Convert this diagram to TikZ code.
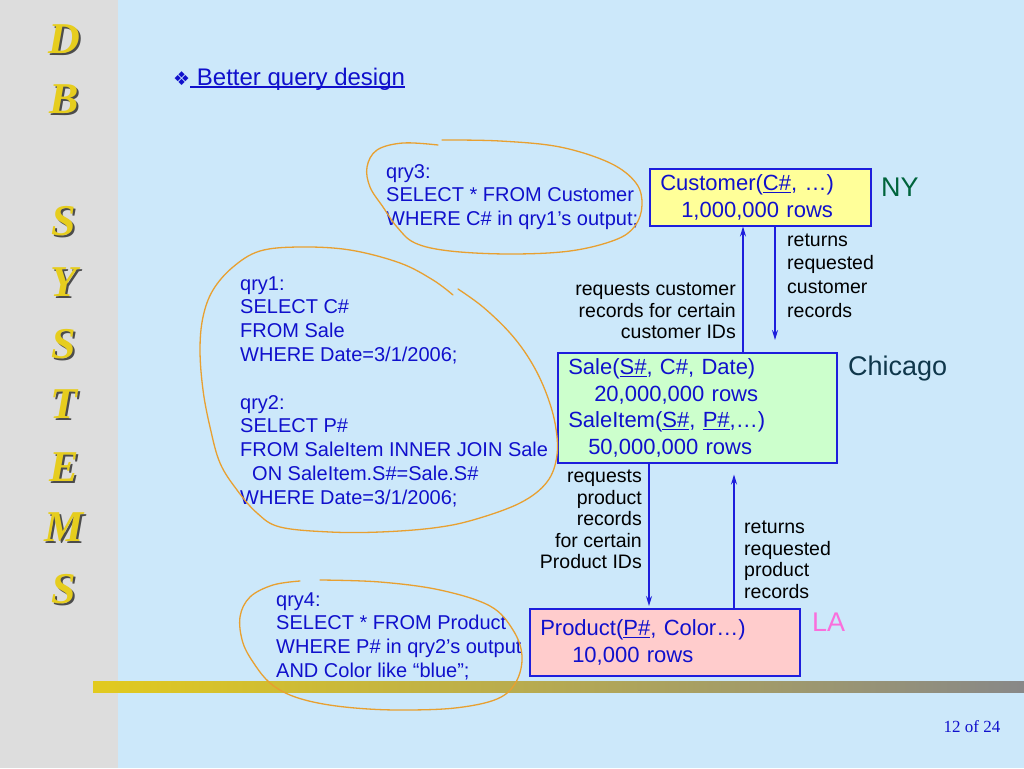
\documentclass[tikz,border=0pt]{standalone}
\usepackage{fontspec}
\setmainfont{Liberation Sans}
\newfontfamily\serifx{Liberation Serif}
\newfontfamily\symfont{DejaVu Sans}
\usetikzlibrary{arrows.meta}
\newcommand\myul[1]{\setbox0\hbox{#1}\rlap{\rule[-2.6pt]{\wd0}{1.2pt}}\box0}
\newcommand\shadowlet[1]{\rlap{\hspace*{2.2pt}\raisebox{-2.4pt}{\color{black!70}#1}}\color{letteryellow}#1}
\definecolor{bgblue}{RGB}{204,232,250}
\definecolor{sidegray}{RGB}{221,221,221}
\definecolor{baryellow}{RGB}{226,202,30}
\definecolor{bargray}{RGB}{136,136,136}
\definecolor{txtblue}{RGB}{16,16,204}
\definecolor{boxblue}{RGB}{30,30,220}
\definecolor{custyellow}{RGB}{255,255,153}
\definecolor{salegreen}{RGB}{204,255,204}
\definecolor{prodpink}{RGB}{255,204,204}
\definecolor{handorange}{RGB}{232,160,48}
\definecolor{nygreen}{RGB}{0,100,60}
\definecolor{chiteal}{RGB}{15,55,75}
\definecolor{lapink}{RGB}{250,110,220}
\definecolor{letteryellow}{RGB}{230,205,30}
\tikzset{
  qtext/.style={font=\fontsize{20}{23.8}\selectfont, text=txtblue, align=left, anchor=base west, inner sep=0pt},
  lbl/.style={font=\fontsize{19.5}{21.6}\selectfont, text=black, inner sep=0pt},
  tbox/.style={draw=boxblue, line width=1.5pt, font=\fontsize{22}{26.5}\selectfont, text=txtblue, align=left, anchor=north west, inner xsep=10.5pt, inner ysep=0pt},
  arr/.style={draw=boxblue, line width=1.5pt, -{Stealth[length=10pt,width=6pt]}},
  hand/.style={draw=handorange, line width=1.3pt, line cap=round},
  sidel/.style={font=\serifx\bfseries\itshape\fontsize{44}{44}\selectfont, inner sep=0pt},
  place/.style={font=\fontsize{27}{27}\selectfont, inner sep=0pt, anchor=base west}
}
\begin{document}
\begin{tikzpicture}[x=1pt,y=-1pt]
\useasboundingbox (0,0) rectangle (1024,768);
\fill[bgblue] (0,0) rectangle (1024,768);
\fill[sidegray] (0,0) rectangle (118,768);
\shade[left color=baryellow, right color=bargray] (93,681) rectangle (1024,692);

% side letters (shadowed)
\foreach \l/\yy [count=\i] in {D/40,B/100,S/222,Y/283,S/345,T/405,E/468,M/528,S/590}{
  \node[sidel] (let\i) at (64,\yy) {\shadowlet{\l}};
}

% title
\node[anchor=base west, inner sep=0pt, text=txtblue, font=\fontsize{24}{24}\selectfont] (title) at (173,85)
  {{\symfont\fontsize{19}{19}\selectfont ❖}\myul{\ Better query design}};

% queries (base anchor = baseline of last line)
\node[qtext] (q3) at (386,225.6) {qry3:\\SELECT * FROM Customer\\WHERE C\# in qry1’s output;};
\node[qtext] (q12) at (240,504.2) {qry1:\\SELECT C\#\\FROM Sale\\WHERE Date=3/1/2006;\\[23.8pt]qry2:\\SELECT P\#\\FROM SaleItem INNER JOIN Sale\\\hspace*{12pt}ON SaleItem.S\#=Sale.S\#\\WHERE Date=3/1/2006;};
\node[qtext] (q4) at (276,677.4) {qry4:\\SELECT * FROM Product\\WHERE P\# in qry2’s output\\AND Color like “blue”;};

% boxes
\node[tbox, fill=custyellow, text width=200pt, minimum height=57pt] (cust) at (649,168)
  {Customer(\myul{C\#}, …)\\\hspace*{21pt}1,000,000 rows};
\node[tbox, fill=salegreen, text width=258pt, minimum height=110pt] (sale) at (557,352)
  {Sale(\myul{S\#}, C\#, Date)\\\hspace*{26pt}20,000,000 rows\\SaleItem(\myul{S\#}, \myul{P\#},…)\\\hspace*{20pt}50,000,000 rows};
\node[tbox, fill=prodpink, text width=249pt, minimum height=67pt] (prod) at (529,608)
  {Product(\myul{P\#}, Color…)\\\hspace*{32pt}10,000 rows};

% place names
\node[place, text=nygreen] (ny) at (881,196) {NY};
\node[place, text=chiteal] (chi) at (848,375) {Chicago};
\node[place, text=lapink] (la) at (812,631) {LA};

% connectors
\coordinate (a1) at (743,0);
\coordinate (a2) at (775,0);
\coordinate (a3) at (649,0);
\coordinate (a4) at (734,0);
\draw[arr] (sale.north -| a1) -- (cust.south -| a1);
\draw[arr, shorten >=12pt] (cust.south -| a2) -- (sale.north -| a2);
\draw[arr, shorten >=2pt] (sale.south -| a3) -- (prod.north -| a3);
\draw[arr, shorten >=11pt] (prod.north -| a4) -- (sale.south -| a4);

% connector labels
\node[lbl, align=left, anchor=base west, font=\fontsize{19.5}{23.7}\selectfont] (l1) at (787,317.1) {returns\\requested\\customer\\records};
\node[lbl, align=right, anchor=base east] (l2) at (736,338.8) {requests customer\\records for certain\\customer IDs};
\node[lbl, align=right, anchor=base east] (l3) at (642,568.8) {requests\\product\\records\\for certain\\Product IDs};
\node[lbl, align=left, anchor=base west] (l4) at (744,598.5) {returns\\requested\\product\\records};

% hand-drawn loops
\draw[hand] plot[smooth, tension=0.6] coordinates {(442,140) (500,141) (560,147) (610,163) (636,183) (642,205) (635,226) (615,240) (570,251) (510,254) (450,251) (415,243) (397,227) (383,207) (370,187) (367,167) (377,150) (403,143) (438,145)};
\draw[hand] plot[smooth, tension=0.6] coordinates {(453,295) (433,280) (400,263) (350,250) (300,247) (260,251) (233,267) (213,290) (203,317) (200,350) (203,390) (210,427) (220,463) (237,490) (257,513) (280,527) (330,532) (380,532) (433,528) (473,520) (520,503) (547,482) (557,455) (555,423) (545,390) (530,360) (510,333) (483,307) (458,289)};
\draw[hand] plot[smooth, tension=0.6] coordinates {(320,580) (380,582) (440,590) (490,606) (513,630) (522,656) (516,682) (497,699) (455,708) (400,710) (355,708) (318,703) (290,695) (270,683) (255,665) (243,643) (240,617) (250,597) (273,585) (300,581)};

% page number
\node[anchor=base, inner sep=0pt, text=txtblue, font=\serifx\fontsize{17}{17}\selectfont] (pg) at (972,732) {12 of 24};
\end{tikzpicture}
\end{document}
